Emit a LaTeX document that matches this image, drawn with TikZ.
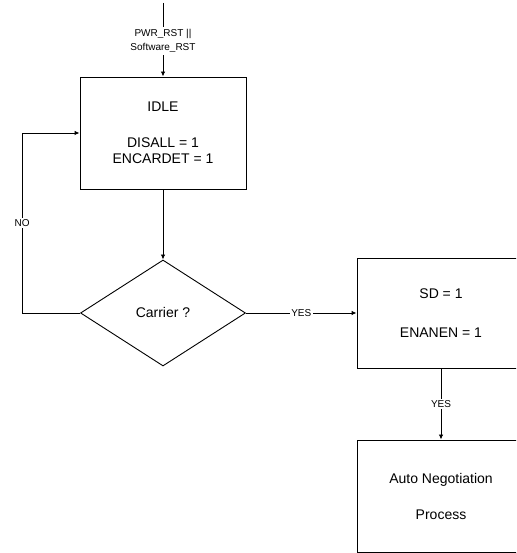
\documentclass[tikz,border=0pt]{standalone}
\usepackage{fontspec}
\setmainfont{Liberation Sans}
\usetikzlibrary{shapes.geometric, arrows.meta}

\begin{document}
\begin{tikzpicture}[x=1pt, y=1pt, line width=0.9pt, >={Latex[length=5pt, width=4.5pt]},
    statebox/.style={draw, align=center, minimum width=168pt, minimum height=110pt,
        font=\fontsize{14}{16}\selectfont},
    decision/.style={draw, diamond, inner sep=0pt, minimum width=165pt, minimum height=106pt,
        font=\fontsize{14}{16}\selectfont},
    tag/.style={fill=white, inner sep=1.5pt, align=center, font=\fontsize{10}{14}\selectfont}]

    % Picture frame (the right-hand boxes run past the edge)
    \useasboundingbox (0,0) rectangle (516,553);
    \clip (0,0) rectangle (516,553);

    % Reset entry on top
    \coordinate (in) at (163,550);
    \node[tag, inner sep=2pt] (rst) at (163,512) {PWR\_RST ||\\Software\_RST};

    % States and the carrier test
    \node[statebox, minimum width=166pt, minimum height=112pt] (idle) at (163,420)
        {IDLE\\[20pt]DISALL = 1\\ENCARDET = 1};
    \node[decision] (carrier) at (163,240) {Carrier ?};
    \node[statebox] (sd) at (441,240) {SD = 1\\[23pt]ENANEN = 1};
    \node[statebox, minimum height=112pt] (auto) at (441,57)
        {Auto Negotiation\\[20pt]Process};

    % Connectors
    \draw (in) -- (rst.north);
    \draw[->] (rst.south) -- (idle.north);
    \draw[->] (idle.south) -- (carrier.north);

    % NO loops back into IDLE
    \draw[->] (carrier.west) -- ++(-58,0) |- (idle.west)
        node[tag, pos=0.25] {NO};

    % YES branches
    \draw[->] (carrier.east) -- (sd.west) node[tag, midway] {YES};
    \draw[->] (sd.south) -- (auto.north) node[tag, midway] {YES};

\end{tikzpicture}
\end{document}
